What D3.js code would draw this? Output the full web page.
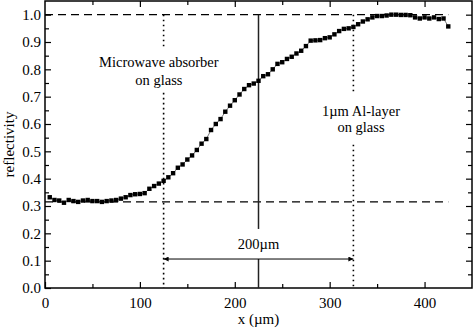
<!DOCTYPE html>
<html>
<head>
<meta charset="utf-8">
<script src="https://cdn.jsdelivr.net/npm/d3@7"></script>
<style>
  body { margin: 0; background: #fff; }
  svg { display: block; }
  svg text { font-family: "Liberation Serif", "Times New Roman", "DejaVu Serif", serif; }
</style>
</head>
<body>
<svg id="chart" width="474" height="330"></svg>
<script>
// position along the scan (µm)
const xs = [5, 10, 15, 20, 25, 30, 35, 40, 45, 50, 55, 60, 65, 70, 75, 80, 85, 90, 95, 100,
  105, 110, 115, 120, 125, 130, 135, 140, 145, 150, 155, 160, 165, 170, 175, 180, 185, 190, 195, 200,
  205, 210, 215, 220, 225, 230, 235, 240, 245, 250, 255, 260, 265, 270, 275, 280, 285, 290, 295, 300,
  305, 310, 315, 320, 325, 330, 335, 340, 345, 350, 355, 360, 365, 370, 375, 380, 385, 390, 395, 400,
  405, 410, 415, 420, 425];
// reflectivity
const refl = [0.332, 0.322, 0.32, 0.312, 0.322, 0.318, 0.315, 0.32, 0.322, 0.318, 0.318, 0.315, 0.318, 0.32, 0.322, 0.327, 0.332, 0.34, 0.343, 0.344,
  0.347, 0.363, 0.373, 0.382, 0.392, 0.405, 0.42, 0.44, 0.452, 0.47, 0.485, 0.505, 0.528, 0.545, 0.578, 0.6, 0.618, 0.645, 0.667, 0.687,
  0.708, 0.728, 0.742, 0.748, 0.758, 0.775, 0.782, 0.8, 0.82, 0.826, 0.838, 0.846, 0.858, 0.868, 0.885, 0.905, 0.906, 0.907, 0.914, 0.917,
  0.928, 0.94, 0.948, 0.95, 0.955, 0.965, 0.975, 0.983, 0.99, 0.995, 0.995, 0.997, 1.0, 1.0, 0.999, 0.999, 0.998, 0.99, 0.986, 0.99,
  0.986, 0.99, 0.984, 0.986, 0.957];

const xTicks = [0, 100, 200, 300, 400];
const yTicks = [0, 0.1, 0.2, 0.3, 0.4, 0.5, 0.6, 0.7, 0.8, 0.9, 1.0];

// reference levels / markers
const levels = [1.0, 0.315];
const edges = [125, 325];
const centre = 225;
const arrowLevel = 0.106;

const margin = { top: 1, right: 2, bottom: 42, left: 45 };
const width = 474, height = 330;
const serif = '"Liberation Serif", "Times New Roman", "DejaVu Serif", serif';

const svg = d3.select('#chart');
const x = d3.scaleLinear().domain([0, 450]).range([margin.left, width - margin.right]);
const y = d3.scaleLinear().domain([0, 1.05]).range([height - margin.bottom, margin.top]);

const defs = svg.append('defs');
defs.append('marker')
  .attr('id', 'arr')
  .attr('viewBox', '0 0 10 10')
  .attr('refX', 10).attr('refY', 5)
  .attr('markerWidth', 7).attr('markerHeight', 5)
  .attr('markerUnits', 'userSpaceOnUse')
  .attr('orient', 'auto-start-reverse')
  .append('path')
  .attr('d', 'M0,0 L10,5 L0,10 z')
  .attr('fill', '#000');

// axes (ticks inside)
const fmt = d3.format('.1f');
svg.append('g')
  .attr('transform', `translate(0,${y(0)})`)
  .call(d3.axisBottom(x).tickValues(xTicks).tickSize(-6).tickPadding(9).tickFormat(d3.format('d')));
svg.append('g')
  .attr('transform', `translate(0,${y(0)})`)
  .call(d3.axisBottom(x).tickValues(d3.range(50, 450, 100)).tickSize(-4).tickFormat(''));
const topAxis = svg.append('g')
  .attr('transform', `translate(0,${y(1.05)})`)
  .call(d3.axisTop(x).tickValues(d3.range(50, 450, 50)).tickSize(0).tickFormat(''));
topAxis.selectAll('.tick line').attr('y2', (d) => (d % 100 === 0 ? 6 : 4));

svg.append('g')
  .attr('transform', `translate(${x(0)},0)`)
  .call(d3.axisLeft(y).tickValues(yTicks).tickSize(-6).tickPadding(4).tickFormat(fmt));
svg.append('g')
  .attr('transform', `translate(${x(0)},0)`)
  .call(d3.axisLeft(y).tickValues(d3.range(0.05, 1.05, 0.1)).tickSize(-4).tickFormat(''));
const rightAxis = svg.append('g')
  .attr('transform', `translate(${x(450)},0)`)
  .call(d3.axisRight(y).tickValues(d3.range(0.05, 1.05, 0.05)).tickSize(0).tickFormat(''));
rightAxis.selectAll('.tick line').attr('x2', (d) => (Math.round(d * 100) % 10 === 0 ? -6 : -4));

svg.selectAll('.domain').remove();
svg.selectAll('.tick line').attr('stroke', '#000').attr('stroke-width', 1.2);
svg.selectAll('.tick text')
  .attr('font-family', serif)
  .attr('font-size', 15)
  .attr('fill', '#000');

// frame
svg.append('rect')
  .attr('x', x(0)).attr('y', y(1.05))
  .attr('width', x(450) - x(0)).attr('height', y(0) - y(1.05))
  .attr('fill', 'none').attr('stroke', '#000').attr('stroke-width', 1.5);

// dashed reference levels
svg.append('g').selectAll('line')
  .data(levels)
  .join('line')
  .attr('x1', x(0)).attr('x2', x(425))
  .attr('y1', (d) => y(d)).attr('y2', (d) => y(d))
  .attr('stroke', '#000').attr('stroke-width', 1.4)
  .attr('stroke-dasharray', '8,5');

// dotted edge markers (with gaps for labels)
const dotSegs = [
  [edges[0], 1.0, 0.872], [edges[0], 0.714, 0],
  [edges[1], 1.0, 0.707], [edges[1], 0.524, 0],
];
svg.append('g').selectAll('line')
  .data(dotSegs)
  .join('line')
  .attr('x1', (d) => x(d[0])).attr('x2', (d) => x(d[0]))
  .attr('y1', (d) => y(d[1])).attr('y2', (d) => y(d[2]))
  .attr('stroke', '#000').attr('stroke-width', 1.6)
  .attr('stroke-dasharray', '1.6,3.4');

// solid centre line
const solidSegs = [[1.0, 0.216], [arrowLevel, 0]];
svg.append('g').selectAll('line')
  .data(solidSegs)
  .join('line')
  .attr('x1', x(centre)).attr('x2', x(centre))
  .attr('y1', (d) => y(d[0])).attr('y2', (d) => y(d[1]))
  .attr('stroke', '#222').attr('stroke-width', 1.5);

// 200 µm arrow
svg.append('line')
  .attr('x1', x(edges[0])).attr('x2', x(edges[1]))
  .attr('y1', y(arrowLevel)).attr('y2', y(arrowLevel))
  .attr('stroke', '#000').attr('stroke-width', 1)
  .attr('marker-start', 'url(#arr)')
  .attr('marker-end', 'url(#arr)');

// data line + markers
const pts = xs.map((d, i) => [d, refl[i]]);
const line = d3.line().x((d) => x(d[0])).y((d) => y(d[1]));
svg.append('path')
  .attr('d', line(pts))
  .attr('fill', 'none').attr('stroke', '#555').attr('stroke-width', 0.8);
svg.append('g').selectAll('rect')
  .data(pts)
  .join('rect')
  .attr('x', (d) => x(d[0]) - 2.2).attr('y', (d) => y(d[1]) - 2.2)
  .attr('width', 4.4).attr('height', 4.4)
  .attr('fill', '#000');

// annotations
const notes = [
  { t: 'Microwave absorber', x: 120, y: 0.81 },
  { t: 'on glass', x: 120, y: 0.743 },
  { t: '1\u00b5m Al-layer', x: 333, y: 0.63 },
  { t: 'on glass', x: 333, y: 0.571 },
  { t: '200\u00b5m', x: 225, y: 0.143 },
];
svg.append('g').selectAll('text')
  .data(notes)
  .join('text')
  .attr('x', (d) => x(d.x)).attr('y', (d) => y(d.y))
  .attr('text-anchor', 'middle')
  .attr('font-family', serif)
  .attr('font-size', 14.5)
  .text((d) => d.t);

// axis titles
svg.append('text')
  .attr('x', (x(0) + x(450)) / 2).attr('y', 324)
  .attr('text-anchor', 'middle').attr('font-size', 15)
  .attr('font-family', serif)
  .text('x (\u00b5m)');
svg.append('text')
  .attr('transform', `translate(14,${(y(0) + y(1.05)) / 2}) rotate(-90)`)
  .attr('text-anchor', 'middle').attr('font-size', 15)
  .attr('font-family', serif)
  .text('reflectivity');
</script>
</body>
</html>
